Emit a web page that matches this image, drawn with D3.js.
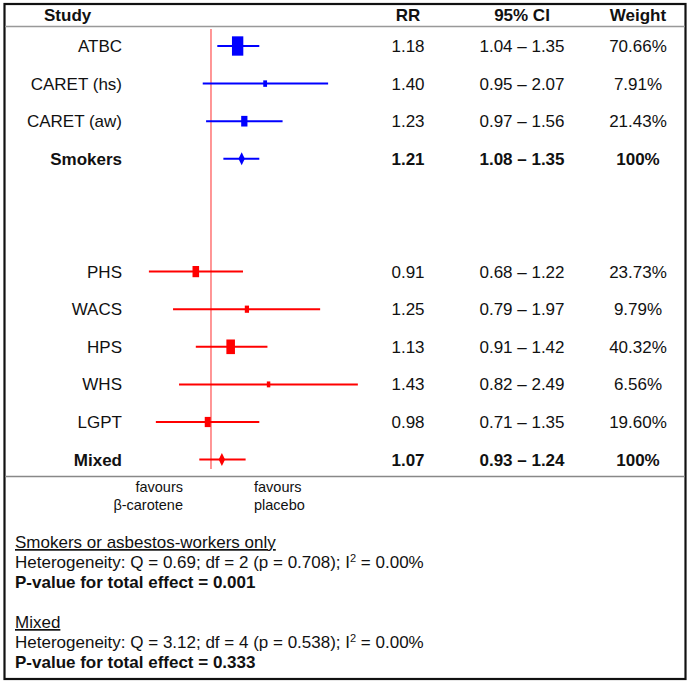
<!DOCTYPE html>
<html>
<head>
<meta charset="utf-8">
<script src="https://cdn.jsdelivr.net/npm/d3@7"></script>
<style>
  body { margin: 0; background: #fff; }
  svg text { font-family: "Liberation Sans", Arial, sans-serif; fill: #111; }
</style>
</head>
<body>
<div id="chart"></div>
<script>
'use strict';

// study rows
var studies = ["ATBC", "CARET (hs)", "CARET (aw)", "Smokers", "PHS", "WACS", "HPS", "WHS", "LGPT", "Mixed"];
var groups  = ["smokers", "smokers", "smokers", "smokers", "mixed", "mixed", "mixed", "mixed", "mixed", "mixed"];
var summary = [false, false, false, true, false, false, false, false, false, true];
var rr      = [1.18, 1.40, 1.23, 1.21, 0.91, 1.25, 1.13, 1.43, 0.98, 1.07];
var lower   = [1.04, 0.95, 0.97, 1.08, 0.68, 0.79, 0.91, 0.82, 0.71, 0.93];
var upper   = [1.35, 2.07, 1.56, 1.35, 1.22, 1.97, 1.42, 2.49, 1.35, 1.24];
var weights = [70.66, 7.91, 21.43, 100, 23.73, 9.79, 40.32, 6.56, 19.60, 100];
var headers = ["Study", "RR", "95% CI", "Weight"];

var W = 694, H = 687;
var FS = "17px";
var colour = { smokers: "#0000ff", mixed: "#ff0000" };

var svg = d3.select("#chart").append("svg")
    .attr("width", W)
    .attr("height", H);

// outer frame
svg.append("rect")
    .attr("x", 4.5).attr("y", 4)
    .attr("width", 681).attr("height", 675)
    .style("fill", "none")
    .style("stroke", "#111")
    .style("stroke-width", 2.2);

// rows, with two empty slots between the groups
var rowKeys = studies.slice(0, 4).concat(["gap1", "gap2"], studies.slice(4));
var y = d3.scalePoint().domain(rowKeys).range([46, 459.6]);
var x = d3.scaleLog().domain([0.5, 2.5]).range([99.4, 358.5]);
var boxW = d3.scaleSqrt().domain([0, 100]).range([0, 13.5]);
var boxH = d3.scaleSqrt().domain([0, 100]).range([0, 23]);

var colX = { study: 122, rr: 408, ci: 522, weight: 638 };

// header
svg.append("text").text(headers[0])
    .attr("x", 44).attr("y", 21)
    .style("font-size", FS).style("font-weight", "bold");
[["rr", headers[1]], ["ci", headers[2]], ["weight", headers[3]]].forEach(function(h) {
    svg.append("text").text(h[1])
        .attr("x", colX[h[0]]).attr("y", 21)
        .attr("text-anchor", "middle")
        .style("font-size", FS).style("font-weight", "bold");
});

svg.append("line")
    .attr("x1", 5).attr("x2", 685).attr("y1", 26.5).attr("y2", 26.5)
    .style("stroke", "#999").style("stroke-width", 1.5);
svg.append("line")
    .attr("x1", 5).attr("x2", 685).attr("y1", 476.5).attr("y2", 476.5)
    .style("stroke", "#888").style("stroke-width", 1.5);

// line of no effect
svg.append("line")
    .attr("x1", x(1)).attr("x2", x(1))
    .attr("y1", 29).attr("y2", 469)
    .style("stroke", "#ff5050").style("stroke-width", 1.2);

var rows = studies.map(function(s, i) {
    return { study: s, group: groups[i], sum: summary[i], rr: rr[i], lo: lower[i], hi: upper[i], w: weights[i] };
});

var g = svg.selectAll("g.row").data(rows).enter().append("g")
    .attr("class", "row")
    .attr("transform", function(d) { return "translate(0," + y(d.study) + ")"; });

g.append("line")
    .attr("x1", function(d) { return x(d.lo); })
    .attr("x2", function(d) { return x(d.hi); })
    .style("stroke", function(d) { return colour[d.group]; })
    .style("stroke-width", 2);

g.filter(function(d) { return !d.sum; }).append("rect")
    .attr("x", function(d) { return x(d.rr) - boxW(d.w) / 2; })
    .attr("y", function(d) { return -boxH(d.w) / 2; })
    .attr("width", function(d) { return boxW(d.w); })
    .attr("height", function(d) { return boxH(d.w); })
    .style("fill", function(d) { return colour[d.group]; });

g.filter(function(d) { return d.sum; }).append("path")
    .attr("d", function(d) {
        var cx = x(d.rr);
        return "M" + (cx - 3.2) + ",0L" + cx + ",-6.5L" + (cx + 3.2) + ",0L" + cx + ",6.5Z";
    })
    .style("fill", function(d) { return colour[d.group]; });

function txt(sel, key, anchor, fn) {
    sel.append("text")
        .text(fn)
        .attr("x", colX[key])
        .attr("dy", "0.35em")
        .attr("text-anchor", anchor)
        .style("font-size", FS)
        .style("font-weight", function(d) { return d.sum ? "bold" : "normal"; });
}
txt(g, "study", "end", function(d) { return d.study; });
txt(g, "rr", "middle", function(d) { return d.rr.toFixed(2); });
txt(g, "ci", "middle", function(d) { return d.lo.toFixed(2) + " \u2013 " + d.hi.toFixed(2); });
txt(g, "weight", "middle", function(d) { return d.sum ? "100%" : d.w.toFixed(2) + "%"; });

// favours labels
var fav = svg.append("g").style("font-size", "14.5px");
fav.append("text").text("favours").attr("x", 183).attr("y", 492).attr("text-anchor", "end");
fav.append("text").text("\u03b2-carotene").attr("x", 183).attr("y", 510).attr("text-anchor", "end");
fav.append("text").text("favours").attr("x", 254).attr("y", 492);
fav.append("text").text("placebo").attr("x", 254).attr("y", 510);

// heterogeneity notes
function note(top, title, q, df, p) {
    svg.append("text").text(title)
        .attr("x", 15).attr("y", top)
        .style("font-size", FS)
        .style("text-decoration", "underline");
    var t = svg.append("text")
        .attr("x", 15).attr("y", top + 20)
        .style("font-size", FS);
    t.append("tspan").text("Heterogeneity: Q = " + q + "; df = " + df + " (p = " + p + "); I");
    t.append("tspan").text("2").attr("dy", -6).style("font-size", "11px");
    t.append("tspan").text(" = 0.00%").attr("dy", 6);
}
note(548, "Smokers or asbestos-workers only", "0.69", 2, "0.708");
svg.append("text").text("P-value for total effect = 0.001")
    .attr("x", 15).attr("y", 588)
    .style("font-size", FS).style("font-weight", "bold");
note(628, "Mixed", "3.12", 4, "0.538");
svg.append("text").text("P-value for total effect = 0.333")
    .attr("x", 15).attr("y", 668)
    .style("font-size", FS).style("font-weight", "bold");
</script>
</body>
</html>
